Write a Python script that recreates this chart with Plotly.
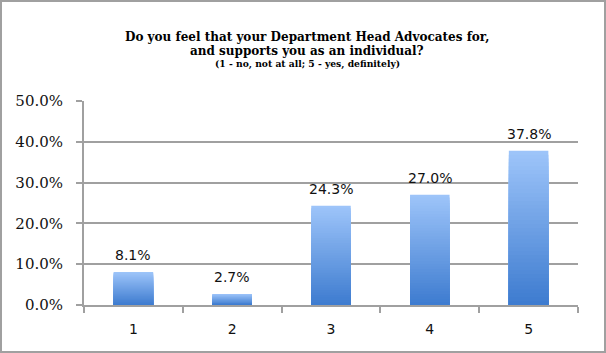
import plotly.graph_objects as go

categories = ["1", "2", "3", "4", "5"]
values = [8.1, 2.7, 24.3, 27.0, 37.8]
title_line1 = "Do you feel that your Department Head Advocates for,"
title_line2 = "and supports you as an individual?"
subtitle = "(1 - no, not at all; 5 - yes, definitely)"

W, H = 606, 353
ML, MR, MT, MB = 84, 28, 101, 48
PW, PH = W - ML - MR, H - MT - MB

light = (158, 197, 250)
dark = (61, 123, 207)
N = 40

fig = go.Figure()
for k in range(N):
    f = (N - k - 0.5) / N
    c = tuple(round(dark[i] + (light[i] - dark[i]) * f) for i in range(3))
    fig.add_trace(go.Bar(
        x=categories,
        y=[v * (N - k) / N for v in values],
        marker=dict(color=f"rgb{c}", line=dict(width=0)),
        hoverinfo="skip",
        showlegend=False,
    ))

for i, v in enumerate(values):
    fig.add_annotation(
        x=i, y=v, text=f"{v:.1f}%", showarrow=False,
        yanchor="bottom", yshift=7,
        font=dict(family="DejaVu Sans", size=14, color="#111111"),
    )

def px_x(p):
    return (p - ML) / PW

def px_y(p):
    return (H - MB - p) / PH

fig.add_shape(
    type="rect", xref="paper", yref="paper",
    x0=px_x(1), x1=px_x(605), y0=px_y(352), y1=px_y(1),
    line=dict(color="#A0A0A0", width=2), fillcolor="rgba(0,0,0,0)",
    layer="below",
)

title_lines = [(title_line1, 12, 37), (title_line2, 12, 51), (subtitle, 9.2, 63)]
for txt, sz, yp in title_lines:
    fig.add_annotation(
        xref="paper", yref="paper", x=px_x(307), y=px_y(yp),
        text=f"<b>{txt}</b>", showarrow=False,
        xanchor="center", yanchor="middle",
        font=dict(family="DejaVu Serif", size=sz, color="#000000"),
    )

fig.update_layout(
    width=W, height=H,
    margin=dict(l=ML, r=MR, t=MT, b=MB),
    paper_bgcolor="white", plot_bgcolor="white",
    barmode="overlay", bargap=0.6,
    xaxis=dict(
        type="category", showgrid=False, range=[-0.5, 4.5],
        showline=True, linecolor="#A0A0A0", linewidth=2,
        ticks="outside", tickson="boundaries", ticklen=6, tickwidth=2, tickcolor="#A0A0A0",
        tickfont=dict(family="DejaVu Sans", size=14, color="#111111"),
        ticklabelstandoff=10,
    ),
    yaxis=dict(
        range=[0, 50], dtick=10, tickformat=".1f", ticksuffix="%",
        showgrid=True, gridcolor="#A0A0A0", gridwidth=2,
        showline=True, linecolor="#A0A0A0", linewidth=2,
        ticks="outside", ticklen=6, tickwidth=2, tickcolor="#A0A0A0",
        tickfont=dict(family="DejaVu Serif", size=15, color="#111111"),
        ticklabelstandoff=10,
        zeroline=False,
    ),
)

fig.write_html("out.html")
